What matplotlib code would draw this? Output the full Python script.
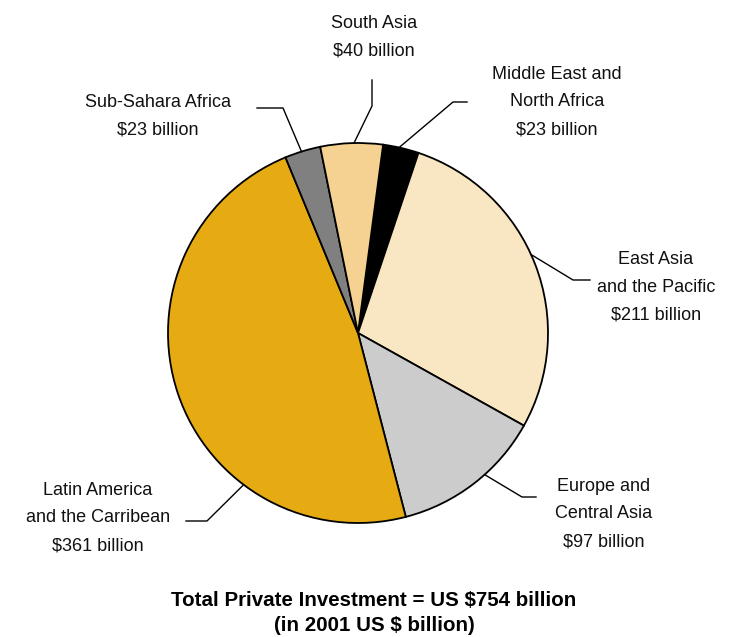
import numpy as np
import matplotlib
matplotlib.use('Agg')
import matplotlib.pyplot as plt

plt.rcParams['font.family'] = ['Liberation Sans', 'DejaVu Sans']

regions = ['Middle East and\nNorth Africa', 'East Asia\nand the Pacific', 'Europe and\nCentral Asia',
           'Latin America\nand the Carribean', 'Sub-Sahara Africa', 'South Asia']
values = [23, 211, 97, 361, 23, 40]
colors = ['#000000', '#F9E6C3', '#CCCCCC', '#E6AA12', '#808080', '#F5D291']

fig = plt.figure(figsize=(7.39, 6.37), dpi=100)
ax = fig.add_axes([0, 0, 1, 1])

cx, cy, r = 358, 304, 190
wedges, _ = ax.pie(values, colors=colors, startangle=82.4, counterclock=False,
                   center=(cx, cy), radius=r, frame=True,
                   wedgeprops=dict(edgecolor='black', linewidth=1.3))
ax.set_xlim(0, 739)
ax.set_ylim(0, 637)
ax.set_aspect('equal')
ax.axis('off')

# label layout: anchor angle on the rim, elbow point, end of leader, text centre
labels = [
    (77.5, (453, 535), (467, 535), (557, 535)),
    (24.4, (573, 357), (590, 357), (656, 350)),
    (-48.2, (522, 140), (536, 140), (604, 123)),
    (233, (207, 116), (186, 116), (98, 119)),
    (107.3, (283, 529), (257, 529), (158, 521)),
    (91.2, (372, 531), (372, 557), (374, 600)),
]

for (name, v, (ang, elbow, end, txt)) in zip(regions, values, labels):
    a = np.radians(ang)
    x0, y0 = cx + r * np.cos(a), cy + r * np.sin(a)
    ax.plot([x0, elbow[0], end[0]], [y0, elbow[1], end[1]], color='black', linewidth=1.0)
    ax.text(txt[0], txt[1], f'{name}\n${v} billion', ha='center', va='center',
            fontsize=13, linespacing=1.82, color='#111111')

ax.text(374, 24, 'Total Private Investment = US $754 billion\n(in 2001 US $ billion)',
        ha='center', va='center', fontsize=14.8, fontweight='bold', linespacing=1.45)

fig.savefig('out.png', dpi=100)
